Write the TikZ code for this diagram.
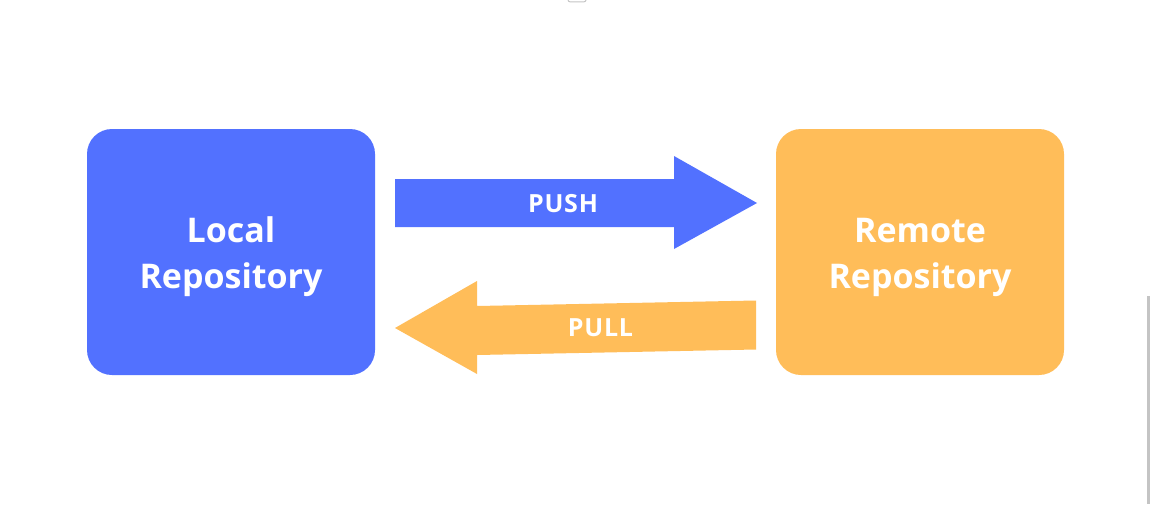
\documentclass[tikz,border=0pt]{standalone}
\usepackage{fontspec}
\setmainfont{Open Sans}
\definecolor{cblue}{HTML}{5271FF}
\definecolor{corange}{HTML}{FFBD59}
\definecolor{edgegray}{HTML}{C4C4C4}
\begin{document}
\begin{tikzpicture}[x=1pt,y=-1pt,
  box/.style={rounded corners=25pt, minimum width=288pt, minimum height=246pt, inner sep=0pt, draw=none},
  big/.style={text=white, font=\fontsize{34}{46}\selectfont\bfseries, anchor=base, inner sep=0pt},
  small/.style={text=white, font=\fontsize{25}{30}\selectfont\bfseries, anchor=base, inner sep=0pt}]
\useasboundingbox (0,0) rectangle (1150,504);
\fill[white] (0,0) rectangle (1150,504);
% boxes
\node[box, fill=cblue] (local) at (231,252) {};
\node[box, fill=corange] (remote) at (920,252) {};
\node[big] (l1) at (231,242) {Local};
\node[big] (l2) at (231,288) {Repository};
\node[big] (r1) at (920,242) {Remote};
\node[big] (r2) at (920,288) {Repository};
% push arrow
\coordinate (ps1) at (395,179);
\coordinate (ps2) at (674,179);
\coordinate (ph1) at (674,156);
\coordinate (ptip) at (757,203);
\coordinate (ph2) at (674,249);
\coordinate (ps3) at (674,227);
\coordinate (ps4) at (395,227);
\fill[cblue] (ps1) -- (ps2) -- (ph1) -- (ptip) -- (ph2) -- (ps3) -- (ps4) -- cycle;
\node[small] (push) at (563,212.7) {\addfontfeature{LetterSpace=3}PUSH};
% pull arrow
\coordinate (qs1) at (756,300.5);
\coordinate (qs2) at (477,306);
\coordinate (qh1) at (477,281);
\coordinate (qtip) at (395,328);
\coordinate (qh2) at (477,374);
\coordinate (qs3) at (477,355);
\coordinate (qs4) at (756,349.5);
\fill[corange] (qs1) -- (qs2) -- (qh1) -- (qtip) -- (qh2) -- (qs3) -- (qs4) -- cycle;
\node[small] (pull) at (600.5,336.7) {\addfontfeature{LetterSpace=3}PULL};
% edge artifacts
\fill[edgegray] (1147,296) rectangle (1149.5,504);
\draw[edgegray, line width=1pt, rounded corners=2pt] (568,0) -- (568,1.8) -- (586,1.8) -- (586,0);
\end{tikzpicture}
\end{document}
